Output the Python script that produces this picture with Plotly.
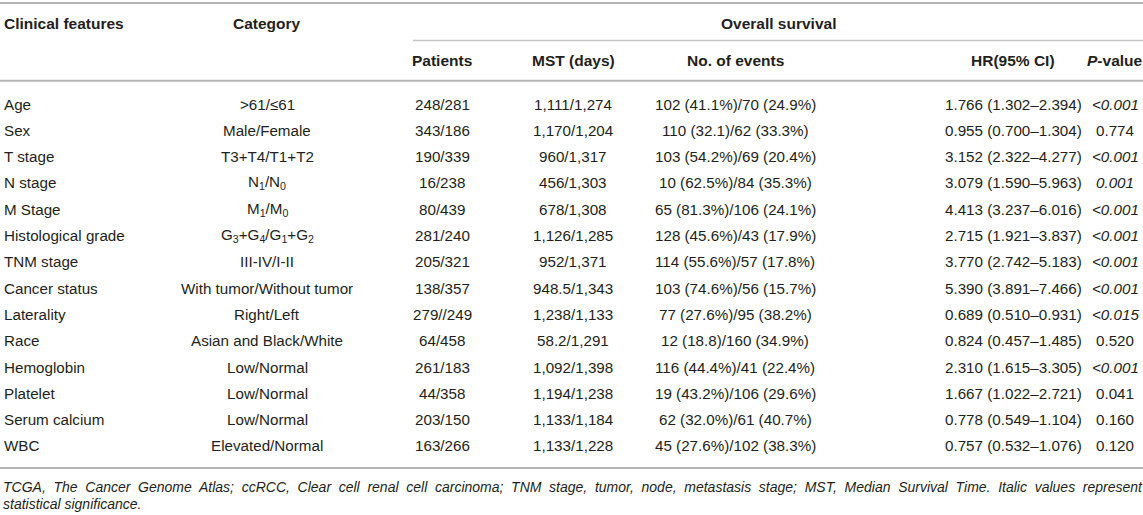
import plotly.graph_objects as go

features = ["Age", "Sex", "T stage", "N stage", "M Stage", "Histological grade",
            "TNM stage", "Cancer status", "Laterality", "Race", "Hemoglobin",
            "Platelet", "Serum calcium", "WBC"]
categories = ["&gt;61/≤61", "Male/Female", "T3+T4/T1+T2",
              "N<sub>1</sub>/N<sub>0</sub>", "M<sub>1</sub>/M<sub>0</sub>",
              "G<sub>3</sub>+G<sub>4</sub>/G<sub>1</sub>+G<sub>2</sub>",
              "III-IV/I-II", "With tumor/Without tumor", "Right/Left",
              "Asian and Black/White", "Low/Normal", "Low/Normal", "Low/Normal",
              "Elevated/Normal"]
patients = ["248/281", "343/186", "190/339", "16/238", "80/439", "281/240", "205/321",
            "138/357", "279//249", "64/458", "261/183", "44/358", "203/150", "163/266"]
mst = ["1,111/1,274", "1,170/1,204", "960/1,317", "456/1,303", "678/1,308",
       "1,126/1,285", "952/1,371", "948.5/1,343", "1,238/1,133", "58.2/1,291",
       "1,092/1,398", "1,194/1,238", "1,133/1,184", "1,133/1,228"]
events = ["102 (41.1%)/70 (24.9%)", "110 (32.1)/62 (33.3%)", "103 (54.2%)/69 (20.4%)",
          "10 (62.5%)/84 (35.3%)", "65 (81.3%)/106 (24.1%)", "128 (45.6%)/43 (17.9%)",
          "114 (55.6%)/57 (17.8%)", "103 (74.6%)/56 (15.7%)", "77 (27.6%)/95 (38.2%)",
          "12 (18.8)/160 (34.9%)", "116 (44.4%)/41 (22.4%)", "19 (43.2%)/106 (29.6%)",
          "62 (32.0%)/61 (40.7%)", "45 (27.6%)/102 (38.3%)"]
hr = ["1.766 (1.302–2.394)", "0.955 (0.700–1.304)", "3.152 (2.322–4.277)",
      "3.079 (1.590–5.963)", "4.413 (3.237–6.016)", "2.715 (1.921–3.837)",
      "3.770 (2.742–5.183)", "5.390 (3.891–7.466)", "0.689 (0.510–0.931)",
      "0.824 (0.457–1.485)", "2.310 (1.615–3.305)", "1.667 (1.022–2.721)",
      "0.778 (0.549–1.104)", "0.757 (0.532–1.076)"]
pvalues = ["&lt;0.001", "0.774", "&lt;0.001", "0.001", "&lt;0.001", "&lt;0.001",
           "&lt;0.001", "&lt;0.001", "&lt;0.015", "0.520", "&lt;0.001", "0.041",
           "0.160", "0.120"]
significant = [True, False, True, True, True, True, True, True, True, False, True,
               False, False, False]

sub_headers = ["Patients", "MST (days)", "No. of events", "HR(95% CI)", "<i>P</i>-value"]
footnote = ("TCGA, The Cancer Genome Atlas; ccRCC, Clear cell renal cell carcinoma; "
            "TNM stage, tumor, node, metastasis stage; MST, Median Survival Time. "
            "Italic values represent")
footnote2 = "statistical significance."

W, H = 1143, 515
FONT = "Liberation Sans, Arial, Helvetica, sans-serif"
INK = "#231f20"
RULE = "#b5b5b5"
FS = 15.2

# layout of the table (pixels)
col_x = [267, 442, 573, 735, 1013, 1115]
row_y0, row_h = 104, 26.3
head1_y, head2_y = 23, 60

fig = go.Figure()
ann = []


def add(x, y, text, anchor="center", bold=False, size=FS, italic=False):
    if bold:
        text = "<b>" + text + "</b>"
        size = 15.5
    if italic:
        text = "<i>" + text + "</i>"
    ann.append(dict(x=x, y=y, text=text, xanchor=anchor, yanchor="middle",
                    showarrow=False, font=dict(family=FONT, size=size, color=INK)))


# headers
add(2, head1_y, "Clinical features", anchor="left", bold=True)
add(col_x[0], head1_y, "Category", bold=True)
add((413 + W) / 2, head1_y, "Overall survival", bold=True)
for cx, h in zip(col_x[1:], sub_headers):
    add(cx, head2_y, h, bold=True)

# body
columns = [categories, patients, mst, events, hr]
for i, f in enumerate(features):
    y = row_y0 + i * row_h
    add(2, y, f, anchor="left")
    for cx, col in zip(col_x, columns):
        add(cx, y, col[i])
    add(col_x[5], y, pvalues[i], italic=significant[i])

# footnote
ann.append(dict(x=1, y=487, xanchor="left", yanchor="middle", showarrow=False,
                text="<i><span style='word-spacing:3.8px'>" + footnote + "</span></i>",
                font=dict(family=FONT, size=14, color=INK)))
ann.append(dict(x=1, y=503.5, xanchor="left", yanchor="middle", showarrow=False,
                text="<i>" + footnote2 + "</i>",
                font=dict(family=FONT, size=14, color=INK)))

# rules
shapes = [
    dict(type="line", x0=0, x1=W, y0=3, y1=3, line=dict(color=RULE, width=2.2)),
    dict(type="line", x0=413, x1=W, y0=40.5, y1=40.5, line=dict(color="#c4c4c4", width=1.5)),
    dict(type="line", x0=0, x1=W, y0=80.7, y1=80.7, line=dict(color=RULE, width=2)),
    dict(type="line", x0=0, x1=W, y0=468, y1=468, line=dict(color=RULE, width=2)),
]

fig.update_layout(
    width=W, height=H,
    margin=dict(l=0, r=0, t=0, b=0),
    paper_bgcolor="white", plot_bgcolor="white",
    xaxis=dict(range=[0, W], visible=False, fixedrange=True),
    yaxis=dict(range=[H, 0], visible=False, fixedrange=True),
    annotations=ann, shapes=shapes, showlegend=False,
)

fig.write_html("out.html", config={"displayModeBar": False},
               post_script="document.body.style.margin='0';document.body.style.overflow='hidden';")
